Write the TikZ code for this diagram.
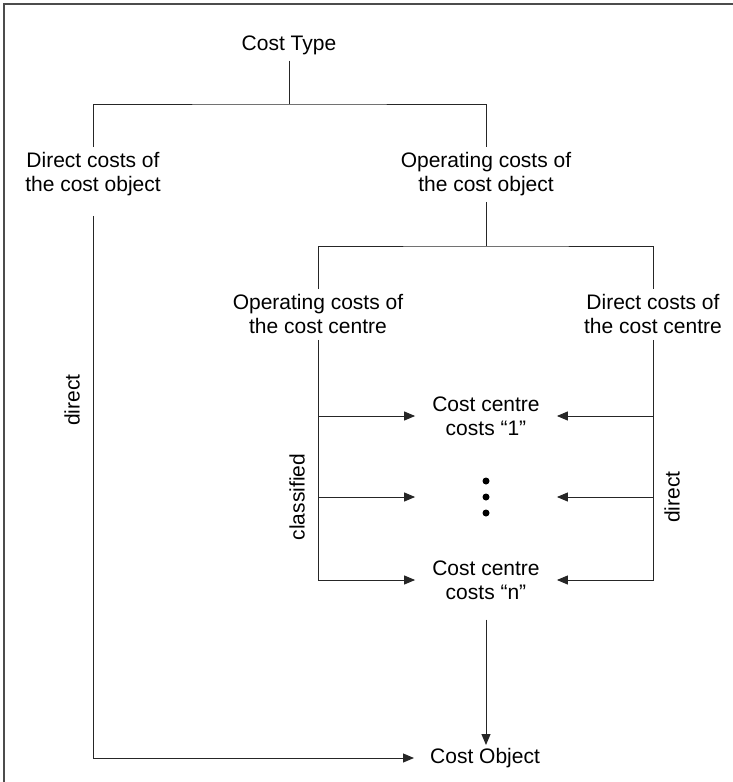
\documentclass[tikz,border=0pt]{standalone}
\usepackage{fontspec}
\setmainfont{Liberation Sans}
\usetikzlibrary{arrows.meta}
\begin{document}
\begin{tikzpicture}[x=1pt,y=-1pt,
  lbl/.style={font=\fontsize{21}{24}\selectfont, align=center, inner sep=0pt},
  side/.style={lbl, rotate=90},
  conn/.style={line width=1pt, draw=black!85},
  arr/.style={conn, -{Triangle[length=11pt,width=9pt]}},
  dot/.style={fill=black, draw=none}]
\useasboundingbox (0,0) rectangle (733,782);
% outer frame
\draw[line width=2pt, black!70] (4,782) -- (4,4) -- (733,4);

% labels
\node[lbl] (type) at (289,45) {Cost Type};
\node[lbl] (dco) at (93,174) {Direct costs of\\the cost object};
\node[lbl] (oco) at (486,174) {Operating costs of\\the cost object};
\node[lbl] (occ) at (318,314) {Operating costs of\\the cost centre};
\node[lbl] (dcc) at (653,314) {Direct costs of\\the cost centre};
\node[lbl] (cc1) at (486,416) {Cost centre\\costs “1”};
\node[lbl] (dots) at (486,497) {\phantom{Cost centre}};
\node[lbl] (ccn) at (486,580) {Cost centre\\costs “n”};
\node[lbl, anchor=west] (obj) at (430,758) {Cost Object};

\node[side] (ldirect) at (72,400) {direct};
\node[side] (lclass) at (297,497) {classified};
\node[side] (rdirect) at (672,497) {direct};

% ellipsis between the cost centres
\fill[dot] ([yshift=16pt]dots.center) circle (3.5pt);
\fill[dot] (dots.center) circle (3.5pt);
\fill[dot] ([yshift=-16pt]dots.center) circle (3.5pt);

% tree junctions
\coordinate (j1) at (289,104);
\coordinate (j2) at (486,246);

\draw[conn] ([yshift=-6pt]type.south) -- (j1);
\draw[conn] ([yshift=5pt]dco.north) |- (j1) -| ([yshift=5pt]oco.north);
\draw[conn] ([yshift=-6pt]oco.south) -- (j2);
\draw[conn] ([yshift=5pt]occ.north) |- (j2) -| ([yshift=5pt]dcc.north);

% classified feed into the cost centres
\draw[arr, shorten >=17pt] ([yshift=-6pt]occ.south) |- (ccn.west);
\draw[arr, shorten >=17pt] (occ.south |- cc1) -- (cc1.west);
\draw[arr, shorten >=17pt] (occ.south |- dots) -- (dots.west);

% direct feed into the cost centres
\draw[arr, shorten >=17pt] ([yshift=-6pt]dcc.south) |- (ccn.east);
\draw[arr, shorten >=17pt] (dcc.south |- cc1) -- (cc1.east);
\draw[arr, shorten >=17pt] (dcc.south |- dots) -- (dots.east);

% into the cost object
\draw[arr, shorten >=3pt] ([yshift=-20pt]ccn.south) -- (ccn.south |- obj.north);
\draw[arr, shorten >=16pt] ([yshift=-20pt]dco.south) |- (obj.west);
\end{tikzpicture}
\end{document}
